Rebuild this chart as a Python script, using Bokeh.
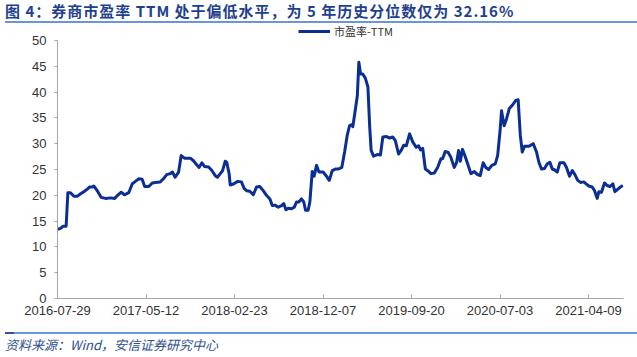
from bokeh.plotting import figure
from bokeh.layouts import column
from bokeh.models import Range1d, FixedTicker, Legend, LegendItem, Div
from bokeh.embed import file_html
from bokeh.resources import INLINE

# ---- data ----
title_text = "图 4：券商市盈率 TTM 处于偏低水平，为 5 年历史分位数仅为 32.16%"
source_text = "资料来源：Wind，安信证券研究中心"
series_name = "市盈率-TTM"

tick_pos = [0, 41, 82, 123, 164, 205, 246]
tick_labels = ["2016-07-29", "2017-05-12", "2018-02-23", "2018-12-07",
               "2019-09-20", "2020-07-03", "2021-04-09"]
y_ticks = [0, 5, 10, 15, 20, 25, 30, 35, 40, 45, 50]

week = [0, 1.4, 2.5, 4.0, 4.8, 6.0, 7.6, 9.1, 10.7, 12.2, 13.8, 14.8, 16.1, 16.8,
        18.4, 20.2, 22.2, 24.6, 26.5, 28.1, 29.5, 31.0, 33.0, 34.6, 36.1, 37.7,
        39.2, 40.4, 42.3, 43.9, 45.3, 47.6, 49.1, 50.6, 52.2, 53.3, 54.5, 56.1,
        57.3, 58.8, 61.5, 63.0, 64.5, 65.6, 66.9, 68.1, 70.0, 71.5, 73.1, 74.1,
        75.4, 76.4, 77.7, 78.4, 79.5, 80.0, 81.5, 83.5, 85.2, 86.5, 87.6, 89.1,
        90.7, 92.2, 93.7, 95.3, 96.8, 98.4, 99.5, 100.7, 102.3, 103.8, 104.8,
        105.8, 106.9, 108.4, 109.7, 110.7, 111.8, 113.0, 114.1, 114.9, 116.1,
        116.9, 118.0, 118.9, 120.0, 121.1, 123.1, 124.6, 125.9, 127.3, 128.9,
        130.2, 131.7, 133.0, 134.2, 135.3, 136.4, 136.8, 137.9, 138.9, 139.6,
        140.4, 141.4, 142.6, 143.8, 144.6, 145.3, 146.4, 148.1, 149.6, 150.7,
        152.3, 153.8, 155.3, 156.5, 158.0, 159.2, 160.4, 161.6, 163.1, 164.6,
        166.2, 167.3, 168.2, 169.2, 170.4, 172.0, 173.0, 174.5, 176.1, 177.6,
        178.4, 179.6, 181.0, 182.2, 183.8, 184.9, 185.8, 186.6, 187.6, 188.7,
        190.0, 191.5, 193.1, 194.6, 195.8, 197.2, 198.4, 199.7, 201.2, 202.8,
        203.9, 205.1, 205.7, 206.9, 208.0, 209.3, 210.8, 212.3, 213.4, 214.4,
        215.3, 216.4, 218.4, 220.4, 221.9, 223.0, 224.2, 225.6, 226.9, 228.1,
        229.2, 230.4, 231.5, 232.7, 234.6, 235.8, 237.2, 238.5, 239.7, 241.0,
        242.3, 243.8, 244.9, 246.1, 247.7, 248.8, 250.0, 250.8, 252.0, 253.4,
        254.6, 255.9, 257.3, 258.2, 259.6, 260.8, 261.9]
pe_ttm = [13.4, 13.6, 14.0, 14.0, 20.5, 20.5, 19.8, 19.8, 20.3, 20.7, 21.2, 21.6,
          21.6, 21.8, 20.9, 19.6, 19.4, 19.5, 19.4, 20.1, 20.6, 20.1, 20.5, 22.2,
          22.7, 23.2, 23.1, 21.7, 21.7, 22.4, 22.5, 22.6, 23.2, 24.0, 24.2, 24.5,
          23.5, 24.5, 27.7, 27.2, 27.2, 26.7, 25.9, 25.4, 26.3, 25.6, 25.5, 24.8,
          23.8, 23.5, 24.2, 24.7, 26.6, 26.4, 24.2, 22.0, 22.2, 22.7, 22.6, 21.3,
          20.9, 20.8, 20.1, 21.6, 21.7, 20.9, 20.0, 19.3, 18.0, 18.1, 17.7, 18.0,
          18.4, 17.2, 17.5, 17.4, 17.7, 18.7, 18.7, 19.3, 18.7, 17.1, 17.1, 18.7,
          24.6, 23.7, 25.8, 24.5, 24.5, 23.7, 22.9, 24.8, 25.1, 25.1, 25.4, 28.4,
          31.6, 33.5, 33.7, 33.3, 36.4, 39.3, 45.8, 43.5, 43.5, 42.7, 41.0, 33.5,
          28.7, 27.6, 27.9, 27.8, 31.3, 31.4, 31.1, 31.3, 30.6, 28.0, 28.7, 29.7,
          29.6, 31.9, 30.3, 29.3, 29.6, 28.8, 29.1, 25.1, 24.6, 24.2, 24.3, 25.4,
          27.1, 27.1, 28.5, 28.3, 27.4, 25.4, 26.4, 28.7, 26.6, 28.9, 27.7, 26.1,
          24.2, 24.6, 24.0, 23.8, 26.3, 25.4, 25.0, 25.8, 26.1, 27.7, 32.9, 36.4,
          33.5, 34.8, 36.8, 37.5, 38.4, 38.5, 31.6, 28.4, 29.5, 29.5, 30.0, 28.4,
          26.4, 25.1, 25.2, 26.1, 26.4, 25.1, 24.9, 24.5, 26.3, 26.3, 25.4, 23.7,
          24.8, 24.0, 22.9, 22.5, 22.6, 22.2, 21.8, 21.6, 20.9, 19.4, 20.7, 20.6,
          22.4, 21.9, 21.7, 22.2, 20.7, 21.2, 21.6, 21.9]

# ---- styles ----
LINE_COLOR = "#0B2E95"
AXIS_COLOR = "#A6A6A6"
TEXT_COLOR = "#333333"
TITLE_COLOR = "#1F3F8F"
SOURCE_COLOR = "#2F4F8F"
RULE_COLOR = "#6A96D6"
CJK = "Noto Sans CJK SC"
LATIN = "Liberation Sans"
W = 637
TOP_H, MAIN_H, BOT_H = 24, 302, 31

# ---- title strip ----
title_div = Div(
    width=W, height=TOP_H, margin=0,
    text=(f'<div style="margin-left:5px;height:21px;line-height:21px;'
          f"font-family:'{CJK}';font-size:15px;font-weight:bold;"
          f'letter-spacing:1px;color:{TITLE_COLOR};white-space:nowrap;">'
          f'{title_text}</div>'
          f'<div style="margin-left:5px;width:{W - 5}px;height:1.5px;'
          f'background:{RULE_COLOR};"></div>'))

# ---- main chart ----
p = figure(width=W, height=MAIN_H, output_backend="svg", toolbar_location=None,
           x_range=Range1d(0, 262.2), y_range=Range1d(0, 50 * 274 / 258),
           min_border_left=57, min_border_right=14, min_border_top=0,
           min_border_bottom=28, background_fill_color="white",
           border_fill_color="white", outline_line_color=None, margin=0)
p.xgrid.visible = False
p.ygrid.visible = False

r = p.line(week, pe_ttm, line_color=LINE_COLOR, line_width=3,
           line_join="round")

p.xaxis.ticker = FixedTicker(ticks=tick_pos)
p.xaxis.major_label_overrides = {t: l for t, l in zip(tick_pos, tick_labels)}
p.yaxis.ticker = FixedTicker(ticks=y_ticks)
p.yaxis.bounds = (0, 50)
for ax in (p.xaxis[0], p.yaxis[0]):
    ax.axis_line_color = AXIS_COLOR
    ax.major_tick_line_color = AXIS_COLOR
    ax.minor_tick_line_color = None
    ax.major_label_text_font = LATIN
    ax.major_label_text_font_size = "13px"
    ax.major_label_text_color = TEXT_COLOR
p.xaxis.major_tick_in = 4
p.xaxis.major_tick_out = 0
p.xaxis.major_label_standoff = 7
p.yaxis.major_tick_in = 0
p.yaxis.major_tick_out = 3
p.yaxis.major_label_standoff = 8

legend = Legend(items=[LegendItem(label=series_name, renderers=[r])],
                location=(241, 259), glyph_width=32, glyph_height=12,
                label_standoff=4, padding=0, margin=0, spacing=0,
                border_line_alpha=0, background_fill_alpha=0,
                label_text_font=CJK, label_text_font_size="11px",
                label_text_color=TEXT_COLOR, label_height=12)
p.add_layout(legend)

# ---- source strip ----
source_div = Div(
    width=W, height=BOT_H, margin=0,
    text=(f'<div style="position:relative;margin-left:5px;margin-top:6px;'
          f'width:{W - 5}px;height:1.5px;background:{RULE_COLOR};">'
          f'<div style="position:absolute;left:0;top:-0.5px;width:9px;'
          f'height:2.5px;background:#2F5597;"></div></div>'
          f'<div style="margin-left:5px;margin-top:4px;line-height:14px;'
          f"font-family:'{CJK}';font-size:13px;font-style:italic;"
          f'color:{SOURCE_COLOR};white-space:nowrap;">{source_text}</div>'))

layout = column(title_div, p, source_div, spacing=0)
open("out.html", "w").write(file_html(layout, INLINE))
